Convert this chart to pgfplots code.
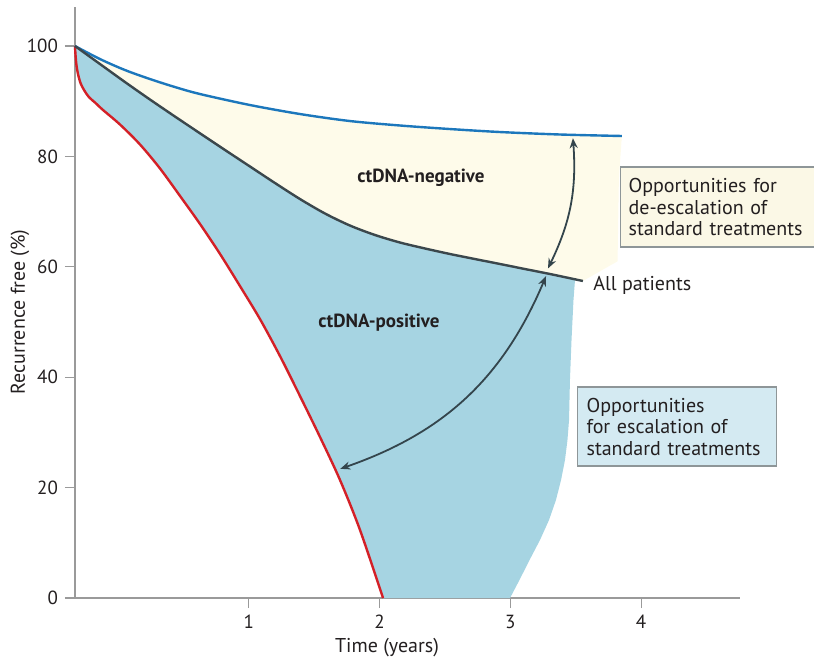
\documentclass[border=0pt]{standalone}
\usepackage{fontspec}
\setmainfont{PT Sans}
\usepackage{pgfplots}
\pgfplotsset{compat=1.18}
\usetikzlibrary{arrows.meta}

\definecolor{curveblue}{HTML}{1C77BC}
\definecolor{curvegray}{HTML}{3B474C}
\definecolor{curvered}{HTML}{D42027}
\definecolor{fillblue}{HTML}{A6D4E2}
\definecolor{fillcream}{HTML}{FEFBEA}
\definecolor{boxcream}{HTML}{FBF8E6}
\definecolor{boxblue}{HTML}{D4EAF2}
\definecolor{boxborder}{HTML}{8E9698}
\definecolor{axisgray}{HTML}{9A9A9A}
\definecolor{textdark}{HTML}{231F20}
\definecolor{arrowc}{HTML}{34454C}

\begin{document}
\begin{tikzpicture}
\useasboundingbox (-37.5pt,-31pt) rectangle (369.5pt,299pt);
\begin{axis}[
  at={(0,0)}, anchor=south west,
  scale only axis, width=332.5pt, height=295.5pt,
  xmin=-0.328, xmax=4.756, ymin=0, ymax=107.07,
  axis lines=left,
  axis line style={-, draw=axisgray, line width=0.7pt},
  xtick={1,2,3,4}, ytick={0,20,40,60,80,100},
  tick align=outside, major tick length=5pt,
  tick style={axisgray, line width=0.6pt},
  tick label style={font=\fontsize{9.5}{11}\selectfont, text=textdark},
  /pgf/number format/assume math mode=true,
  clip=false,
]
% ctDNA-positive area
\addplot[fill=fillblue, draw=none] coordinates {
  (-0.328,100) (-0.324,98.37) (-0.317,96.56) (-0.305,94.93) (-0.286,93.30)
  (-0.259,92.03) (-0.222,90.76) (-0.175,89.76) (-0.114,88.41) (0.016,85.78)
  (0.169,82.16) (0.322,77.81) (0.475,72.83) (0.628,67.75) (0.781,62.32)
  (0.933,56.52) (1.086,50.54) (1.239,43.84) (1.392,36.59) (1.545,29.17)
  (1.698,21.38) (1.851,12.32) (2.027,0)
  (2.998,0) (3.070,3.26) (3.147,6.88) (3.227,10.51) (3.296,14.13)
  (3.349,17.75) (3.388,21.38) (3.418,25.0) (3.437,28.62) (3.449,32.25)
  (3.456,39.49) (3.468,46.74) (3.483,53.99) (3.495,57.73)
  (3.303,58.70) (3.112,59.60) (2.921,60.51) (2.730,61.41) (2.539,62.32)
  (2.348,63.32) (2.157,64.40) (1.966,65.76) (1.774,67.48) (1.583,69.66)
  (1.392,72.28) (1.201,75.18) (1.010,78.17) (0.819,81.16) (0.628,84.18)
  (0.436,87.23) (0.245,90.31) (0.054,93.48) (-0.137,96.74)
} -- cycle;
% ctDNA-negative area
\addplot[fill=fillcream, draw=none] coordinates {
  (-0.328,100) (-0.137,97.64) (0.054,95.65) (0.245,94.02) (0.436,92.57)
  (0.628,91.30) (1.010,89.31) (1.392,87.68) (1.774,86.41) (2.157,85.60)
  (2.539,84.96) (2.921,84.42) (3.380,83.97) (3.853,83.70)
  (3.83,76) (3.82,61) (3.555,57.43)
  (3.303,58.70) (3.112,59.60) (2.921,60.51) (2.730,61.41) (2.539,62.32)
  (2.348,63.32) (2.157,64.40) (1.966,65.76) (1.774,67.48) (1.583,69.66)
  (1.392,72.28) (1.201,75.18) (1.010,78.17) (0.819,81.16) (0.628,84.18)
  (0.436,87.23) (0.245,90.31) (0.054,93.48) (-0.137,96.74)
} -- cycle;
% curves
\addplot[curvered, line width=1.2pt, smooth] coordinates {
  (-0.328,100) (-0.324,98.37) (-0.317,96.56) (-0.305,94.93) (-0.286,93.30)
  (-0.259,92.03) (-0.222,90.76) (-0.175,89.76) (-0.114,88.41) (0.016,85.78)
  (0.169,82.16) (0.322,77.81) (0.475,72.83) (0.628,67.75) (0.781,62.32)
  (0.933,56.52) (1.086,50.54) (1.239,43.84) (1.392,36.59) (1.545,29.17)
  (1.698,21.38) (1.851,12.32) (2.027,0)
};
\addplot[curveblue, line width=1.2pt, smooth] coordinates {
  (-0.328,100) (-0.137,97.64) (0.054,95.65) (0.245,94.02) (0.436,92.57)
  (0.628,91.30) (1.010,89.31) (1.392,87.68) (1.774,86.41) (2.157,85.60)
  (2.539,84.96) (2.921,84.42) (3.380,83.97) (3.853,83.70)
};
\addplot[curvegray, line width=1.2pt, smooth] coordinates {
  (-0.328,100) (-0.137,96.74) (0.054,93.48) (0.245,90.31) (0.436,87.23)
  (0.628,84.18) (0.819,81.16) (1.010,78.17) (1.201,75.18) (1.392,72.28)
  (1.583,69.66) (1.774,67.48) (1.966,65.76) (2.157,64.40) (2.348,63.32)
  (2.539,62.32) (2.730,61.41) (2.921,60.51) (3.112,59.60) (3.303,58.70)
  (3.555,57.43)
};
% arrows
\draw[arrowc, line width=0.9pt, {Stealth[length=5pt,width=4pt]}-{Stealth[length=5pt,width=4pt]}]
  (axis cs:3.288,59.7) to[bend right=15] (axis cs:3.479,83.3);
\draw[arrowc, line width=0.9pt, {Stealth[length=5pt,width=4pt]}-{Stealth[length=5pt,width=4pt]}]
  (axis cs:3.273,58.3) to[bend left=24] (axis cs:1.70,23.4);
% labels
\node[font=\bfseries\fontsize{9.5}{11}\selectfont, text=textdark] at (axis cs:2.317,76.09) {ctDNA-negative};
\node[font=\bfseries\fontsize{9.5}{11}\selectfont, text=textdark] at (axis cs:1.996,49.82) {ctDNA-positive};
\node[anchor=west, inner sep=0pt, font=\fontsize{10}{12}\selectfont, text=textdark] at (axis cs:3.632,56.7) {All patients};
\end{axis}
% boxes and axis titles (axis origin is at 0,0; 1px = 0.5pt)
\node[anchor=west, draw=boxborder, fill=boxcream, line width=0.6pt, text width=98pt, align=left,
  inner xsep=4pt, inner ysep=0pt, minimum height=40pt, text=textdark,
  font=\fontsize{10}{10.75}\selectfont] at (272.5pt,195.5pt) {Opportunities for\\de-escalation of\\standard treatments};
\node[anchor=west, draw=boxborder, fill=boxblue, line width=0.6pt, text width=90.5pt, align=left,
  inner xsep=4.5pt, inner ysep=0pt, minimum height=39.5pt, text=textdark,
  font=\fontsize{10}{10.75}\selectfont] at (251pt,85.75pt) {Opportunities\\for escalation of\\standard treatments};
\node[font=\fontsize{10}{12}\selectfont, text=textdark] at (156pt,-25pt) {Time (years)};
\node[rotate=90, font=\fontsize{10}{12}\selectfont, text=textdark] at (-27.5pt,143pt) {Recurrence free (\%)};
\end{tikzpicture}
\end{document}
